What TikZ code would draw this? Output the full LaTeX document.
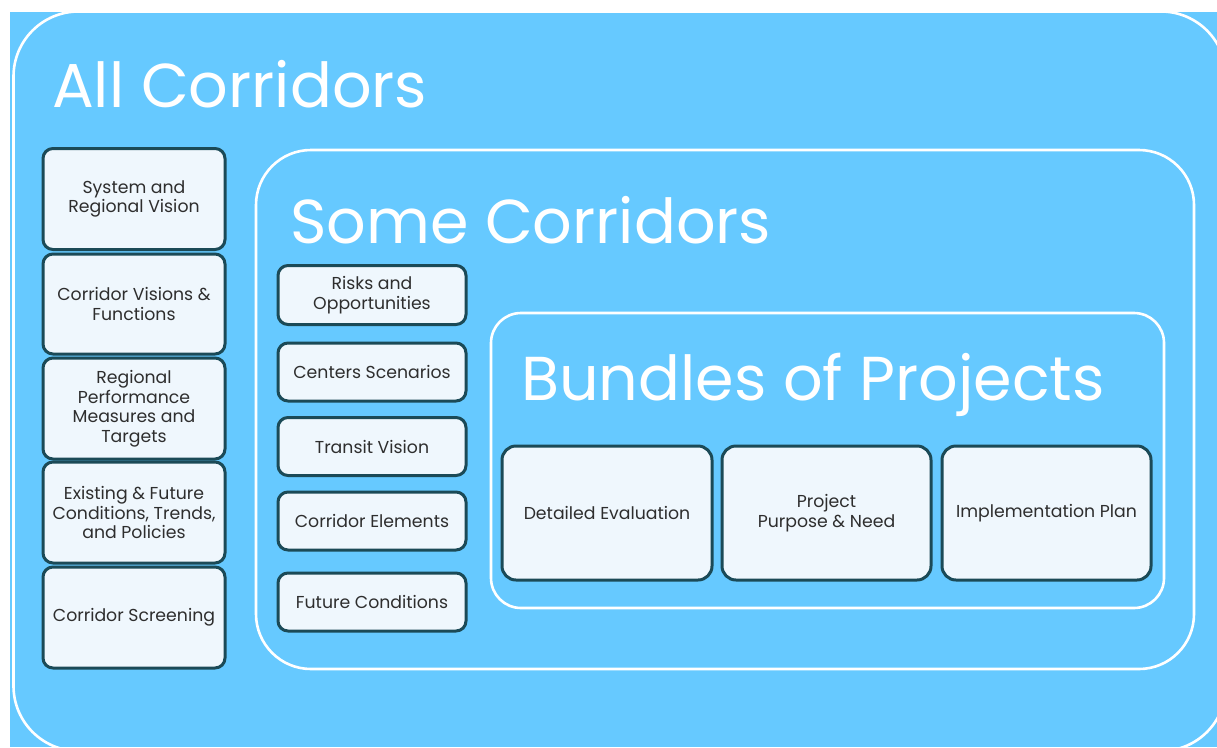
\documentclass[tikz,border=0pt]{standalone}
\usepackage{fontspec}
\setmainfont{Poppins}
\definecolor{bgblue}{HTML}{66C9FF}
\definecolor{boxfill}{HTML}{EFF7FD}
\definecolor{boxline}{HTML}{1B4A57}
\definecolor{txt}{HTML}{2E2E2E}
\tikzset{
  frame/.style={draw=white,line width=2.6pt},
  stepbox/.style={draw=boxline,fill=boxfill,line width=3pt,rounded corners=10pt,
    align=center,text=txt,font=\fontsize{17.3}{19.5}\selectfont,inner sep=0pt},
  title/.style={text=white,anchor=base west,inner sep=0pt,font=\fontsize{62}{70}\selectfont}
}
\begin{document}
\begin{tikzpicture}[x=1pt,y=-1pt]
\useasboundingbox (0,0) rectangle (1217,747);
\fill[bgblue] (10,12) rectangle (1217,747);
\draw[frame,rounded corners=65pt] (13.5,11.5) rectangle (1226,751);
\draw[frame,rounded corners=55pt] (256,150) rectangle (1194,669);
\draw[frame,rounded corners=30pt] (491,313) rectangle (1164,608);
\node[title] (t1) at (52,107) {All Corridors};
\node[title] (t2) at (290,243) {Some Corridors};
\node[title] (t3) at (521,400) {Bundles of Projects};
% left column
\node[stepbox,minimum width=182pt,minimum height=101pt] (a1) at (134,199) {System and\\Regional Vision};
\node[stepbox,minimum width=182pt,minimum height=100pt] (a2) at (134,304) {Corridor Visions \&\\Functions};
\node[stepbox,minimum width=182pt,minimum height=101pt] (a3) at (134,408.5) {Regional\\Performance\\Measures and\\Targets};
\node[stepbox,minimum width=182pt,minimum height=101pt] (a4) at (134,512.5) {Existing \& Future\\Conditions, Trends,\\and Policies};
\node[stepbox,minimum width=182pt,minimum height=101pt] (a5) at (134,617.5) {Corridor Screening};
% middle column
\node[stepbox,minimum width=188pt,minimum height=59pt] (b1) at (372,295) {Risks and\\Opportunities};
\node[stepbox,minimum width=188pt,minimum height=58pt] (b2) at (372,372) {Centers Scenarios};
\node[stepbox,minimum width=188pt,minimum height=58pt] (b3) at (372,446.5) {Transit Vision};
\node[stepbox,minimum width=188pt,minimum height=58pt] (b4) at (372,521) {Corridor Elements};
\node[stepbox,minimum width=188pt,minimum height=58pt] (b5) at (372,602) {Future Conditions};
% bundle boxes
\node[stepbox,minimum width=210pt,minimum height=134pt,rounded corners=14pt] (c1) at (607,513) {Detailed Evaluation};
\node[stepbox,minimum width=209pt,minimum height=134pt,rounded corners=14pt] (c2) at (826.5,513) {Project\\Purpose \& Need};
\node[stepbox,minimum width=209pt,minimum height=134pt,rounded corners=14pt] (c3) at (1046.5,513) {Implementation Plan};
\end{tikzpicture}
\end{document}
